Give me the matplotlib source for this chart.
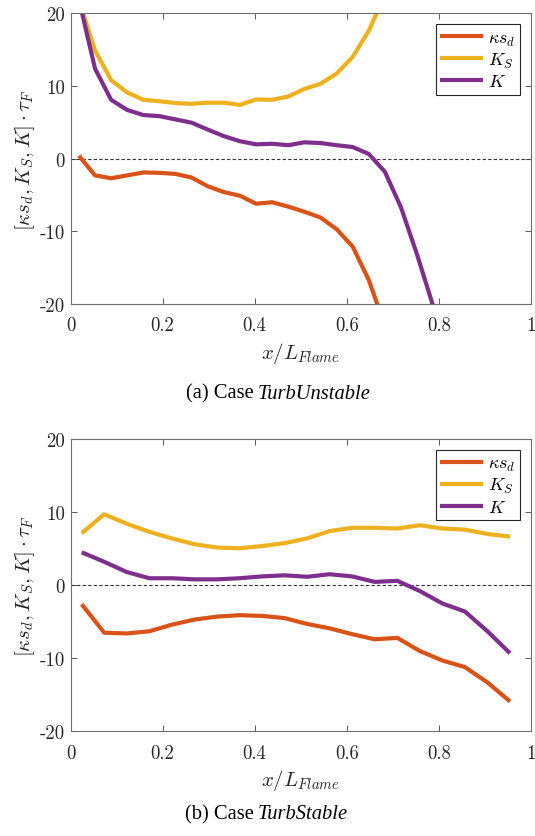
import numpy as np
import matplotlib
matplotlib.use("Agg")
import matplotlib.pyplot as plt

## Curvature / strain terms along the flame, two cases (a) unstable, (b) stable

plt.rcParams['mathtext.fontset'] = 'cm'
plt.rcParams['axes.unicode_minus'] = False

# Case TurbUnstable
x_a = [0.018, 0.053, 0.088, 0.123, 0.158, 0.193, 0.228, 0.263, 0.298, 0.333,
       0.368, 0.403, 0.438, 0.473, 0.508, 0.543, 0.578, 0.613, 0.648, 0.683,
       0.718, 0.753, 0.788]
ksd_a = [0.4, -2.3, -2.7, -2.3, -1.9, -1.95, -2.1, -2.6, -3.8, -4.6,
         -5.1, -6.2, -6.0, -6.6, -7.3, -8.1, -9.7, -12.1, -16.7, -23.0,
         -30.0, -38.0, -46.0]
KS_a = [21.8, 14.9, 10.8, 9.1, 8.1, 7.9, 7.65, 7.55, 7.7, 7.7,
        7.4, 8.15, 8.1, 8.55, 9.6, 10.3, 11.7, 14.0, 17.6, 22.5,
        28.0, 34.0, 40.0]
K_a = [21.9, 12.4, 8.1, 6.7, 6.0, 5.85, 5.4, 4.95, 4.0, 3.1,
       2.4, 1.97, 2.05, 1.85, 2.25, 2.15, 1.85, 1.6, 0.65, -1.8,
       -6.7, -13.2, -20.3]

# Case TurbStable
x_b = [0.024, 0.073, 0.122, 0.171, 0.220, 0.269, 0.318, 0.367, 0.416, 0.465,
       0.514, 0.563, 0.612, 0.661, 0.710, 0.759, 0.808, 0.857, 0.906, 0.955]
ksd_b = [-2.6, -6.5, -6.6, -6.3, -5.4, -4.7, -4.3, -4.1, -4.2, -4.5,
         -5.3, -5.9, -6.7, -7.4, -7.2, -9.0, -10.3, -11.2, -13.3, -15.9]
KS_b = [7.1, 9.7, 8.4, 7.3, 6.4, 5.6, 5.15, 5.05, 5.35, 5.75,
        6.4, 7.4, 7.85, 7.85, 7.75, 8.2, 7.75, 7.6, 7.0, 6.65]
K_b = [4.5, 3.2, 1.8, 0.95, 0.95, 0.8, 0.8, 0.95, 1.2, 1.35,
       1.15, 1.5, 1.2, 0.45, 0.6, -0.8, -2.5, -3.6, -6.3, -9.3]

labels = [r'$\kappa s_d$', r'$K_S$', r'$K$']
colors = ['#D95319', '#EDB120', '#7E2F8E']
xticks = [0, 0.2, 0.4, 0.6, 0.8, 1]
yticks = [-20, -10, 0, 10, 20]

fig = plt.figure(figsize=(5.35, 8.37), dpi=100)
ax_a = fig.add_axes([0.132, 0.6356, 0.860, 0.3473])
ax_b = fig.add_axes([0.132, 0.1249, 0.860, 0.3495])

panels = [
    (ax_a, x_a, [ksd_a, KS_a, K_a], '(a) Case', 'TurbUnstable', 0.529),
    (ax_b, x_b, [ksd_b, KS_b, K_b], '(b) Case', 'TurbStable', 0.027),
]

for ax, x, series, cap, cap_it, cap_y in panels:
    ax.axhline(0, color='#333333', lw=0.8, ls=(0, (3, 2)), zorder=1)
    for y, lab, c in zip(series, labels, colors):
        ax.plot(x, y, color=c, lw=3, label=lab, solid_capstyle='butt', zorder=2)
    ax.set_xlim(0, 1)
    ax.set_ylim(-20, 20)
    ax.set_xticks(xticks)
    ax.set_xticklabels(['0', '0.2', '0.4', '0.6', '0.8', '1'])
    ax.set_yticks(yticks)
    ax.set_yticklabels(['-20', '-10', '0', '10', '20'])
    ax.tick_params(direction='in', top=True, right=True, length=4, width=0.6,
                   colors='#404040', labelcolor='#262626', labelsize=13.5)
    ax.tick_params(axis='x', pad=9)
    ax.tick_params(axis='y', pad=4)
    for lbl in ax.get_xticklabels() + ax.get_yticklabels():
        lbl.set_family('cmr10')
    for sp in ax.spines.values():
        sp.set_color('#6e6e6e')
        sp.set_linewidth(0.8)
    ax.set_xlabel(r'$x/L_{Flame}$', fontsize=15, color='#262626', labelpad=4)
    ax.set_ylabel(r'$[\kappa s_d, K_S, K]\cdot\tau_F$', fontsize=15, color='#262626', labelpad=2)
    leg = ax.legend(loc='upper right', fontsize=13, handlelength=2.4, handletextpad=0.25,
                    borderpad=0.25, labelspacing=0.15, fancybox=False, framealpha=1,
                    borderaxespad=0.6)
    leg.get_frame().set_edgecolor('#262626')
    leg.get_frame().set_linewidth(0.8)
    # caption below each panel: upright part then italic case name
    fig.text(0.474, cap_y, cap, ha='right', va='center', fontsize=14.8,
             family='Liberation Serif')
    fig.text(0.481, cap_y, cap_it, ha='left', va='center', fontsize=14.8,
             family='Liberation Serif', style='italic')

plt.savefig('out.png', dpi=100)
